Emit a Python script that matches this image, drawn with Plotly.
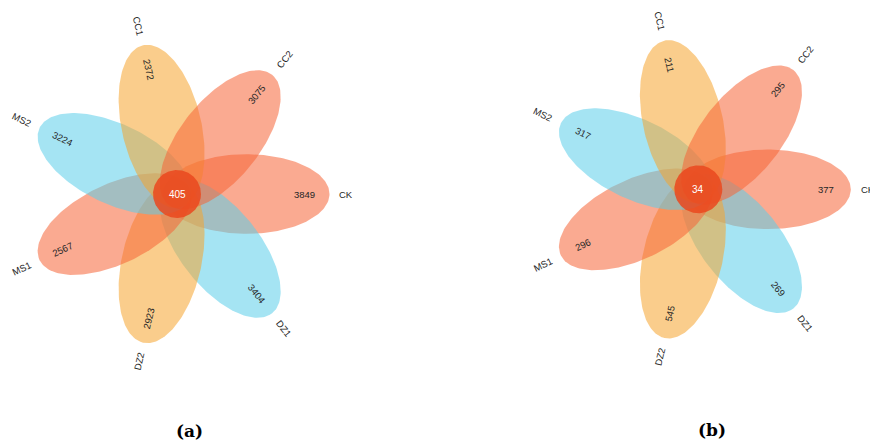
import numpy as np
import plotly.graph_objects as go

# Sample groups, counter-clockwise starting from the right-hand petal
groups = ["CK", "CC2", "CC1", "MS2", "MS1", "DZ2", "DZ1"]
# Unique counts per group for the two panels
unique_a = [3849, 3075, 2372, 3224, 2567, 2923, 3404]
unique_b = [377, 295, 211, 317, 296, 545, 269]
# Shared core counts
core_a = 405
core_b = 34
panel_tags = ["a", "b"]

SALMON = "rgba(246,100,55,0.55)"
YELLOW = "rgba(246,164,46,0.55)"
BLUE = "rgba(91,206,233,0.55)"
petal_colors = {"CK": SALMON, "CC2": SALMON, "CC1": YELLOW, "MS2": BLUE,
                "MS1": SALMON, "DZ2": YELLOW, "DZ1": BLUE}
CORE_COLOR = "rgba(234,72,30,0.86)"
TEXT_COLOR = "#262626"
SANS = "Liberation Sans, Arial, sans-serif"

W, H = 870, 441
U = 51.0                      # pixels per flower unit
OFFSET, SEMI_MAJOR, SEMI_MINOR = 1.36, 1.63, 0.78
CORE_R = 0.47
NUM_R = 2.5
LABEL_R = 3.19
FS_NUM, FS_LABEL, FS_CORE = 9.5, 9.5, 10

# centres of the two flowers in page pixels (x from left, y from top)
centres_px = [(177.0, 194.0), (698.3, 189.3)]

# Arial advance widths (em) for centring rotated labels
ADV = {"C": 0.722, "K": 0.667, "M": 0.833, "S": 0.667, "D": 0.722, "Z": 0.611,
       "1": 0.556, "2": 0.556}


def text_width(s, fs):
    return sum(ADV.get(ch, 0.6) for ch in s) * fs


def readable(deg):
    d = (deg + 180) % 360 - 180
    if d > 90:
        d -= 180
    elif d <= -90:
        d += 180
    return d


fig = go.Figure()
n = len(groups)
step = 360.0 / n
angles = [step * i for i in range(n)]
# petals are painted clockwise from CK
draw_order = [0] + list(range(n - 1, 0, -1))

t = np.linspace(0, 2 * np.pi, 181)
annotations = []

for p, (counts, core, tag) in enumerate(zip([unique_a, unique_b], [core_a, core_b], panel_tags)):
    xa = "x" if p == 0 else "x2"
    ya = "y" if p == 0 else "y2"
    for i in draw_order:
        th = np.deg2rad(angles[i])
        cx, cy = OFFSET * np.cos(th), OFFSET * np.sin(th)
        ex = SEMI_MAJOR * np.cos(t)
        ey = SEMI_MINOR * np.sin(t)
        xs = cx + ex * np.cos(th) - ey * np.sin(th)
        ys = cy + ex * np.sin(th) + ey * np.cos(th)
        fig.add_trace(go.Scatter(x=xs, y=ys, mode="lines", fill="toself",
                                 fillcolor=petal_colors[groups[i]],
                                 line=dict(width=0, color="rgba(0,0,0,0)"),
                                 hoverinfo="skip", showlegend=False,
                                 xaxis=xa, yaxis=ya))
    fig.add_trace(go.Scatter(x=CORE_R * np.cos(t), y=CORE_R * np.sin(t), mode="lines",
                             fill="toself", fillcolor=CORE_COLOR,
                             line=dict(width=0, color="rgba(0,0,0,0)"),
                             hoverinfo="skip", showlegend=False, xaxis=xa, yaxis=ya))

    for i in range(n):
        th = np.deg2rad(angles[i])
        rot = readable(angles[i])
        annotations.append(dict(x=NUM_R * np.cos(th), y=NUM_R * np.sin(th),
                                xref=xa, yref=ya, text=str(counts[i]), showarrow=False,
                                xanchor="center", yanchor="middle",
                                textangle=-rot, font=dict(size=FS_NUM, color=TEXT_COLOR,
                                                          family=SANS)))
        r_lab = LABEL_R + text_width(groups[i], FS_LABEL) / 2 / U
        annotations.append(dict(x=r_lab * np.cos(th), y=r_lab * np.sin(th),
                                xref=xa, yref=ya, text=groups[i], showarrow=False,
                                xanchor="center", yanchor="middle",
                                textangle=-rot, font=dict(size=FS_LABEL, color=TEXT_COLOR,
                                                          family=SANS)))
    annotations.append(dict(x=0, y=0, xref=xa, yref=ya, text=str(core), showarrow=False,
                            xanchor="center", yanchor="middle",
                            font=dict(size=FS_CORE, color="white", family=SANS)))

# panel captions
cap_pos = [(189, 431), (712, 430)]
for tag, (px, py) in zip(panel_tags, cap_pos):
    annotations.append(dict(x=px / W, y=1 - py / H, xref="paper", yref="paper",
                            xanchor="center", yanchor="middle",
                            text=f"<b>({tag})</b>", showarrow=False,
                            font=dict(size=17, color="black", family="DejaVu Serif")))

half = W / 2
axis_common = dict(visible=False, showgrid=False, zeroline=False, fixedrange=True)
(cxa, cya), (cxb, cyb) = centres_px
layout_axes = dict(
    xaxis=dict(domain=[0, 0.5], range=[-cxa / U, (half - cxa) / U], anchor="y", **axis_common),
    yaxis=dict(domain=[0, 1], range=[-(H - cya) / U, cya / U], anchor="x", **axis_common),
    xaxis2=dict(domain=[0.5, 1], range=[-(cxb - half) / U, (W - cxb) / U], anchor="y2",
                **axis_common),
    yaxis2=dict(domain=[0, 1], range=[-(H - cyb) / U, cyb / U], anchor="x2", **axis_common),
)

fig.update_layout(width=W, height=H, margin=dict(l=0, r=0, t=0, b=0),
                  paper_bgcolor="white", plot_bgcolor="white",
                  annotations=annotations, showlegend=False, **layout_axes)

fig.write_html("out.html", config={"displayModeBar": False})
